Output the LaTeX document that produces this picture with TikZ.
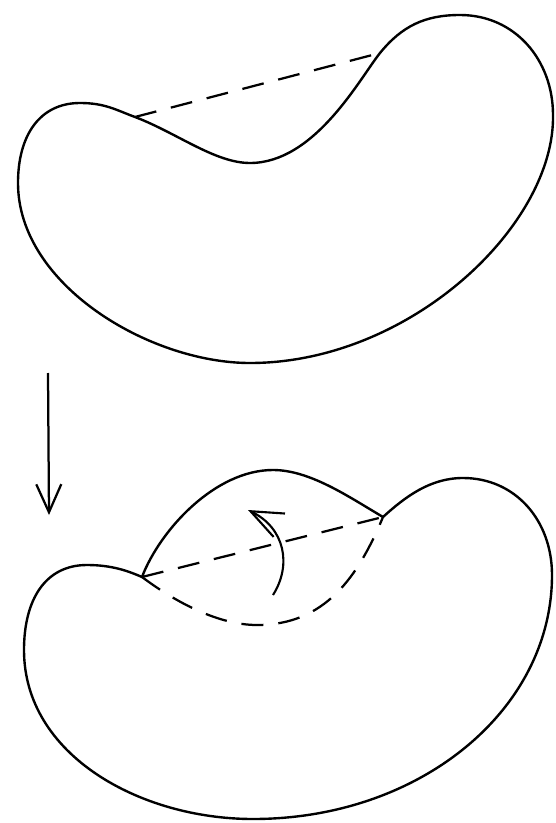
\documentclass[tikz,border=0pt]{standalone}
\usepackage{tikz}
\usetikzlibrary{arrows.meta}

\begin{document}
\begin{tikzpicture}[x=0.5mm, y=-0.5mm,
  outline/.style={line width=3.4pt, line join=round, line cap=round},
  hidden/.style={line width=3.2pt, dash pattern=on 11mm off 7.5mm},
  move/.style={line width=3.2pt, -{Straight Barb[length=14mm, width=12.5mm]}},
  turn/.style={line width=3pt, -{Straight Barb[length=16mm, width=13mm]}}
]
\useasboundingbox (0,0) rectangle (555,823);

% ---- upper body ---------------------------------------------------------
\coordinate (tl) at (135,117);
\coordinate (tr) at (380,53);
\draw[outline] (tl)
  .. controls (177,133) and (215,163) .. (250,163)
  .. controls (315,163) and (360,78) .. (tr)
  .. controls (402,26) and (425,15) .. (460,15)
  .. controls (515,15) and (553,60) .. (553,115)
  .. controls (555,225) and (410,363) .. (250,363)
  .. controls (150,363) and (18,285) .. (18,183)
  .. controls (18,135) and (40,103) .. (80,103)
  .. controls (105,103) and (116,110) .. (tl) -- cycle;
\draw[hidden] (tl) -- (tr);

% ---- arrow between the two ----------------------------------------------
\coordinate (from) at (48,373);
\coordinate (to) at (49,515);
\draw[move] (from) -- (to);

% ---- lower body ---------------------------------------------------------
\coordinate (bl) at (142,577);
\coordinate (br) at (383,517);
\draw[outline] (br)
  .. controls (405,497) and (430,478) .. (463,478)
  .. controls (515,478) and (552,520) .. (552,575)
  .. controls (552,710) and (420,819) .. (253,819)
  .. controls (140,819) and (24,755) .. (24,650)
  .. controls (24,600) and (45,565) .. (87,565)
  .. controls (112,565) and (128,571) .. (bl);
% flipped cap
\draw[outline] (br)
  .. controls (349,497) and (310,470) .. (273,470)
  .. controls (215,470) and (160,530) .. (bl);
\draw[hidden] (bl)
  .. controls (170,598) and (215,625) .. (257,625)
  .. controls (325,625) and (358,577) .. (br);
\draw[hidden] (bl) -- (br);

% ---- turning arrow ------------------------------------------------------
\coordinate (rotA) at (273,595);
\coordinate (rotB) at (248,510);
\draw[turn] (rotA) .. controls (292,565) and (285,528) .. (rotB);
\end{tikzpicture}
\end{document}
